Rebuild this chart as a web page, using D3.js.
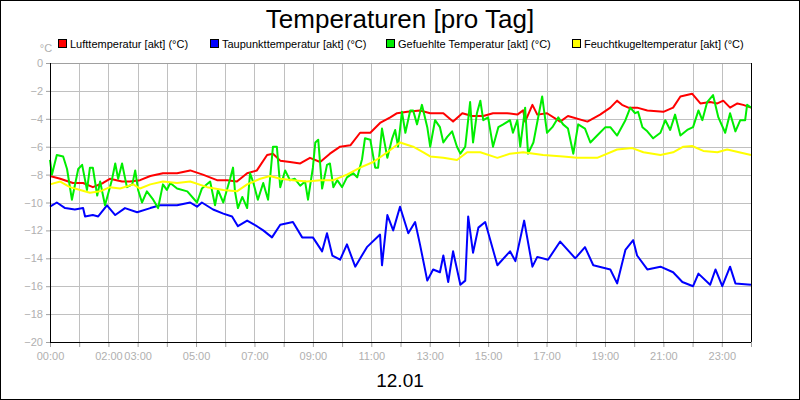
<!DOCTYPE html>
<html>
<head>
<meta charset="utf-8">
<script src="https://cdn.jsdelivr.net/npm/d3@7"></script>
<style>
  body { margin: 0; background: #fff; }
  text { font-family: "Liberation Sans", Arial, sans-serif; }
</style>
</head>
<body>
<svg id="chart" width="800" height="400"></svg>
<script>
// minutes of day, degrees C
const luftT = [0,21,47,68,88,109,123,148,164,185,206,232,261,288,314,343,364,384,405,425,446,458,473,493,514,534,555,575,596,617,637,658,678,699,713,734,760,781,808,828,847,867,890,910,939,960,972,976,991,1001,1021,1048,1064,1104,1130,1151,1165,1175,1188,1206,1227,1260,1280,1295,1319,1336,1356,1371,1383,1397,1412,1424,1440];
const luftV = [-8.1,-8.3,-8.6,-8.6,-8.9,-8.6,-8.3,-8.5,-8.5,-8.4,-8.1,-7.9,-7.9,-7.7,-8.0,-8.4,-8.4,-8.5,-7.9,-7.7,-6.6,-6.5,-7.0,-7.1,-7.2,-6.8,-7.1,-6.5,-6.0,-5.9,-5.0,-5.0,-4.3,-3.9,-3.6,-3.5,-3.4,-3.6,-3.6,-4.2,-3.6,-3.8,-3.8,-3.6,-3.6,-3.7,-3.4,-4.2,-3.0,-3.7,-3.6,-4.2,-3.8,-4.2,-3.7,-3.2,-2.7,-3.0,-3.2,-3.2,-3.4,-3.5,-3.2,-2.4,-2.2,-2.9,-2.8,-2.9,-2.7,-3.2,-2.9,-3.0,-3.2];

const taupT = [0,14,31,51,68,72,88,99,117,134,154,179,206,226,261,288,302,312,335,356,374,386,405,425,438,456,473,499,518,540,559,569,580,596,610,627,651,678,682,693,705,719,736,750,760,775,787,801,808,818,828,843,853,859,869,880,894,919,945,956,974,991,1001,1023,1048,1079,1099,1116,1151,1165,1182,1198,1206,1227,1254,1280,1299,1321,1332,1356,1367,1381,1397,1408,1440];
const taupV = [-10.3,-10.0,-10.4,-10.5,-10.4,-11.0,-10.9,-11.0,-10.2,-10.9,-10.4,-10.7,-10.4,-10.2,-10.2,-10.0,-10.3,-10.0,-10.5,-10.8,-11.0,-11.7,-11.3,-11.7,-12.0,-12.5,-11.6,-11.4,-12.5,-12.5,-13.5,-12.2,-13.8,-14.1,-13.0,-14.6,-13.2,-12.3,-14.5,-10.9,-12.0,-10.3,-12.2,-11.4,-13.0,-15.6,-14.8,-15.0,-13.8,-15.7,-13.5,-15.9,-15.6,-11.0,-13.6,-11.8,-11.4,-14.5,-13.5,-14.2,-11.3,-14.6,-13.9,-14.1,-12.8,-14.0,-13.2,-14.5,-14.8,-15.8,-13.4,-12.7,-13.8,-14.8,-14.6,-15.0,-15.7,-16.0,-15.1,-15.9,-14.8,-16.0,-14.6,-15.8,-15.9];

const gefT = [0,4,14,27,35,45,58,66,76,82,88,97,103,113,127,134,140,148,158,169,175,181,189,199,212,222,232,240,247,261,282,302,312,329,339,345,356,370,376,380,386,395,405,411,417,427,438,448,458,466,473,483,493,503,514,524,530,540,545,551,559,569,575,582,590,600,610,623,631,641,647,658,668,674,682,693,703,709,715,723,730,740,746,754,764,775,781,791,801,808,816,826,836,843,853,863,869,877,884,890,900,910,921,931,945,951,960,966,976,982,993,1011,1021,1032,1044,1054,1064,1075,1085,1099,1110,1124,1141,1151,1165,1182,1192,1202,1208,1217,1227,1239,1254,1264,1274,1284,1295,1309,1321,1332,1340,1350,1362,1373,1387,1397,1408,1418,1428,1432,1440];
const gefV = [-6.95,-8.0,-6.6,-6.7,-7.6,-9.8,-7.6,-7.3,-9.1,-7.5,-7.5,-9.5,-8.5,-10.2,-8.4,-7.2,-8.3,-7.2,-8.9,-8.7,-7.7,-9.1,-10.0,-9.2,-9.8,-10.4,-8.7,-9.1,-8.6,-9.0,-9.2,-10.0,-9.0,-8.5,-10.2,-9.1,-10.0,-8.3,-7.5,-9.2,-10.4,-9.6,-10.4,-7.9,-8.5,-9.8,-8.6,-9.8,-6.0,-6.0,-8.9,-7.7,-8.4,-8.3,-8.8,-8.5,-9.8,-7.5,-5.7,-5.5,-9.0,-7.3,-7.2,-8.9,-8.4,-8.9,-8.2,-7.9,-8.2,-6.9,-5.4,-5.5,-7.5,-7.5,-4.7,-6.8,-5.4,-4.8,-6.0,-3.5,-5.0,-3.4,-3.4,-4.4,-3.0,-4.6,-6.0,-4.1,-4.6,-5.7,-5.3,-4.9,-6.0,-6.5,-6.0,-2.8,-5.7,-3.6,-2.7,-4.1,-3.9,-6.0,-4.6,-4.4,-4.1,-5.0,-4.1,-6.0,-3.2,-6.5,-5.7,-2.4,-5.0,-4.6,-3.9,-4.4,-4.7,-6.5,-4.4,-4.7,-5.7,-5.2,-4.6,-4.6,-5.2,-4.1,-3.2,-3.6,-3.5,-4.6,-4.9,-5.4,-5.0,-4.1,-4.8,-3.7,-5.2,-4.8,-4.6,-3.4,-4.1,-2.8,-2.3,-3.9,-5.0,-3.6,-4.9,-4.1,-4.1,-3.0,-3.2];

const feuchtT = [0,21,41,62,82,103,123,144,171,185,206,232,261,288,323,356,384,405,432,452,473,499,528,555,582,610,637,664,693,719,746,767,781,808,836,857,884,919,945,972,1013,1054,1083,1124,1165,1196,1219,1254,1280,1301,1319,1342,1371,1391,1440];
const feuchtV = [-8.7,-8.5,-8.9,-9.1,-9.3,-9.2,-8.9,-9.0,-8.7,-9.0,-8.7,-8.5,-8.6,-8.5,-8.9,-9.1,-9.2,-8.7,-8.3,-8.1,-8.3,-8.4,-8.5,-8.4,-8.4,-8.0,-7.5,-7.1,-6.4,-5.7,-6.0,-6.4,-6.7,-6.8,-6.95,-6.4,-6.4,-6.8,-6.5,-6.4,-6.6,-6.7,-6.8,-6.8,-6.2,-6.1,-6.4,-6.6,-6.4,-6.0,-5.95,-6.3,-6.4,-6.2,-6.6];

const seriesNames = ["Lufttemperatur [akt] (°C)", "Taupunkttemperatur [akt] (°C)", "Gefuehlte Temperatur [akt] (°C)", "Feuchtkugeltemperatur [akt] (°C)"];
const seriesColors = ["#ff0000", "#0000ff", "#00ee00", "#ffff00"];
const yTicks = [0,-2,-4,-6,-8,-10,-12,-14,-16,-18,-20];
const xLabelHours = [0,2,3,5,7,9,11,13,15,17,19,21,23];

const series = [
    { t: luftT, v: luftV },
    { t: taupT, v: taupV },
    { t: gefT, v: gefV },
    { t: feuchtT, v: feuchtV }
];

const svg = d3.select("#chart");
const margin = { top: 63, right: 49, bottom: 58, left: 50 };
const width = 800 - margin.left - margin.right;
const height = 400 - margin.top - margin.bottom;

svg.append("rect").attr("x", 0.5).attr("y", 0.5).attr("width", 799).attr("height", 399)
    .attr("fill", "#fff").attr("stroke", "#000");

svg.append("text").attr("x", 400).attr("y", 28).attr("text-anchor", "middle")
    .attr("font-size", 26).text("Temperaturen [pro Tag]");

svg.append("text").attr("x", 46).attr("y", 52).attr("text-anchor", "middle")
    .attr("font-size", 11).attr("fill", "#b0b0b0").text("°C");

const x = d3.scaleLinear().domain([0, 1440]).range([0, width]);
const y = d3.scaleLinear().domain([-20, 0]).range([height, 0]);

const g = svg.append("g").attr("transform", `translate(${margin.left},${margin.top})`);

// grid
g.selectAll(".vgrid").data(d3.range(1, 24)).enter().append("line")
    .attr("x1", d => Math.round(x(d * 60)) + 0.5).attr("x2", d => Math.round(x(d * 60)) + 0.5)
    .attr("y1", 0).attr("y2", height).attr("stroke", "#c0c0c0");
g.selectAll(".hgrid").data(yTicks.slice(1, -1)).enter().append("line")
    .attr("x1", 0).attr("x2", width)
    .attr("y1", d => Math.round(y(d)) + 0.5).attr("y2", d => Math.round(y(d)) + 0.5).attr("stroke", "#c0c0c0");
g.append("line").attr("x1", 0).attr("x2", width).attr("y1", 0.5).attr("y2", 0.5).attr("stroke", "#a0a0a0");

// axes
const yAxis = g.append("g").call(d3.axisLeft(y).tickValues(yTicks).tickSize(4).tickFormat(d3.format("d")));
yAxis.select(".domain").remove();
yAxis.selectAll("line").attr("stroke", "#a0a0a0");
yAxis.selectAll("text").attr("fill", "#b0b0b0").attr("font-size", 11).attr("font-family", "Liberation Sans, Arial, sans-serif");

const xAxis = g.append("g").attr("transform", `translate(0,${height})`)
    .call(d3.axisBottom(x).tickValues(d3.range(0, 25).map(h => h * 60)).tickSize(5)
        .tickFormat(m => xLabelHours.includes(m / 60) ? String(m / 60).padStart(2, "0") + ":00" : ""));
xAxis.select(".domain").remove();
xAxis.selectAll("line").attr("stroke", "#a0a0a0");
xAxis.selectAll("text").attr("fill", "#b0b0b0").attr("font-size", 11).attr("dy", "0.9em")
    .attr("font-family", "Liberation Sans, Arial, sans-serif");

// series lines
const line = d3.line().x(d => x(d[0])).y(d => y(d[1]));
series.forEach((s, i) => {
    g.append("path")
        .datum(s.t.map((t, k) => [t, s.v[k]]))
        .attr("d", line).attr("fill", "none")
        .attr("stroke", seriesColors[i]).attr("stroke-width", 2).attr("stroke-linejoin", "round");
});

// frame
g.append("line").attr("x1", 0.5).attr("x2", 0.5).attr("y1", 0).attr("y2", height).attr("stroke", "#000");
g.append("line").attr("x1", 0).attr("x2", width).attr("y1", height + 0.5).attr("y2", height + 0.5).attr("stroke", "#000");
g.append("line").attr("x1", width + 0.5).attr("x2", width + 0.5).attr("y1", 0).attr("y2", height).attr("stroke", "#000");

// legend
const legendX = [58, 210, 386, 572];
const legend = svg.selectAll(".legend").data(seriesNames).enter().append("g")
    .attr("transform", (d, i) => `translate(${legendX[i]},39)`);
legend.append("rect").attr("x", 0.5).attr("y", 0.5).attr("width", 8).attr("height", 8)
    .attr("fill", (d, i) => seriesColors[i]).attr("stroke", "#000");
legend.append("text").attr("x", 12).attr("y", 8.5).attr("font-size", 11).text(d => d);

svg.append("text").attr("x", 400).attr("y", 387).attr("text-anchor", "middle")
    .attr("font-size", 19).text("12.01");
</script>
</body>
</html>
